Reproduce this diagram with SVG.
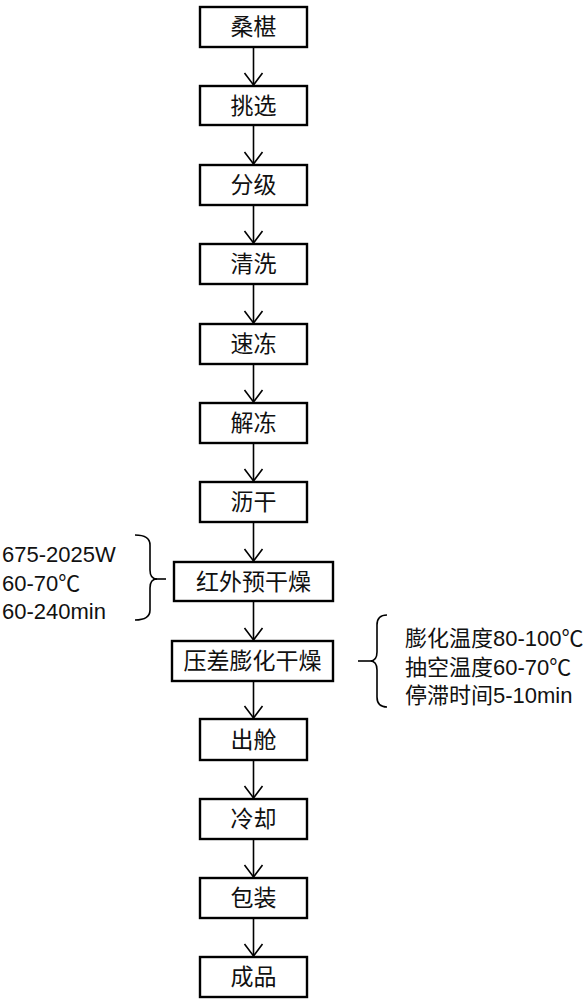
<svg xmlns="http://www.w3.org/2000/svg" width="588" height="1000" viewBox="0 0 588 1000">
<defs>
<style>
.box{fill:#fff;stroke:#000;stroke-width:2.4}
.lbl{font-family:"Liberation Sans","Noto Sans CJK SC",sans-serif;font-size:23px;fill:#111;text-anchor:middle;dominant-baseline:central}
.note{font-family:"Liberation Sans","Noto Sans CJK SC",sans-serif;font-size:22px;fill:#111}
.ln{fill:none;stroke:#000;stroke-width:1.6}
</style>
<marker id="ah" viewBox="0 0 20 14" refX="10" refY="13" markerWidth="20" markerHeight="14" markerUnits="userSpaceOnUse" orient="auto-start-reverse">
<path d="M1,1 L10,13 L19,1" fill="none" stroke="#000" stroke-width="1.6"/>
</marker>
</defs>
<rect width="588" height="1000" fill="#fff"/>
<g id="connectors">
<line class="ln" x1="253.5" y1="47" x2="253.5" y2="86"/>
<path class="ln" d="M244.5,73 L253.5,85 L262.5,73"/>
<line class="ln" x1="253.5" y1="125" x2="253.5" y2="165"/>
<path class="ln" d="M244.5,152 L253.5,164 L262.5,152"/>
<line class="ln" x1="253.5" y1="205" x2="253.5" y2="244"/>
<path class="ln" d="M244.5,231 L253.5,243 L262.5,231"/>
<line class="ln" x1="253.5" y1="284" x2="253.5" y2="324"/>
<path class="ln" d="M244.5,311 L253.5,323 L262.5,311"/>
<line class="ln" x1="253.5" y1="364" x2="253.5" y2="403"/>
<path class="ln" d="M244.5,390 L253.5,402 L262.5,390"/>
<line class="ln" x1="253.5" y1="443" x2="253.5" y2="482"/>
<path class="ln" d="M244.5,469 L253.5,481 L262.5,469"/>
<line class="ln" x1="253.5" y1="522" x2="253.5" y2="562"/>
<path class="ln" d="M244.5,549 L253.5,561 L262.5,549"/>
<line class="ln" x1="253.5" y1="601" x2="253.5" y2="641"/>
<path class="ln" d="M244.5,628 L253.5,640 L262.5,628"/>
<line class="ln" x1="253.5" y1="681" x2="253.5" y2="719"/>
<path class="ln" d="M244.5,706 L253.5,718 L262.5,706"/>
<line class="ln" x1="253.5" y1="760" x2="253.5" y2="799"/>
<path class="ln" d="M244.5,786 L253.5,798 L262.5,786"/>
<line class="ln" x1="253.5" y1="839" x2="253.5" y2="878"/>
<path class="ln" d="M244.5,865 L253.5,877 L262.5,865"/>
<line class="ln" x1="253.5" y1="918" x2="253.5" y2="957"/>
<path class="ln" d="M244.5,944 L253.5,956 L262.5,944"/>
</g>
<g id="n1"><rect class="box" x="200" y="7" width="107" height="40"/><text class="lbl" x="253.5" y="27">桑椹</text></g>
<g id="n2"><rect class="box" x="200" y="86" width="107" height="39"/><text class="lbl" x="253.5" y="105.5">挑选</text></g>
<g id="n3"><rect class="box" x="200" y="165" width="107" height="40"/><text class="lbl" x="253.5" y="185">分级</text></g>
<g id="n4"><rect class="box" x="200" y="244" width="107" height="40"/><text class="lbl" x="253.5" y="264">清洗</text></g>
<g id="n5"><rect class="box" x="200" y="324" width="107" height="40"/><text class="lbl" x="253.5" y="344">速冻</text></g>
<g id="n6"><rect class="box" x="200" y="403" width="107" height="40"/><text class="lbl" x="253.5" y="423">解冻</text></g>
<g id="n7"><rect class="box" x="200" y="482" width="107" height="40"/><text class="lbl" x="253.5" y="502">沥干</text></g>
<g id="n8"><rect class="box" x="174" y="562" width="159" height="39"/><text class="lbl" x="253.5" y="581.5">红外预干燥</text></g>
<g id="n9"><rect class="box" x="172" y="641" width="161" height="40"/><text class="lbl" x="252.5" y="661">压差膨化干燥</text></g>
<g id="n10"><rect class="box" x="200" y="719" width="107" height="41"/><text class="lbl" x="253.5" y="739.5">出舱</text></g>
<g id="n11"><rect class="box" x="200" y="799" width="107" height="40"/><text class="lbl" x="253.5" y="819">冷却</text></g>
<g id="n12"><rect class="box" x="200" y="878" width="107" height="40"/><text class="lbl" x="253.5" y="898">包装</text></g>
<g id="n13"><rect class="box" x="200" y="957" width="107" height="40"/><text class="lbl" x="253.5" y="977">成品</text></g>
<g id="note-left">
<path class="ln" d="M135,535 Q150,535 150,545 L150,570 Q150,579 157,579 Q150,579 150,588 L150,610 Q150,620 135,620"/>
<line class="ln" x1="156" y1="579" x2="166" y2="579"/>
<text class="note" x="2" y="562">675-2025W</text>
<text class="note" x="2" y="591">60-70℃</text>
<text class="note" x="2" y="619">60-240min</text>
</g>
<g id="note-right">
<path class="ln" d="M387,615 Q377,615 377,625 L377,652 Q377,661 370,661 Q377,661 377,670 L377,697 Q377,707 387,707"/>
<line class="ln" x1="358" y1="661" x2="370" y2="661"/>
<text class="note" x="405" y="646">膨化温度80-100℃</text>
<text class="note" x="405" y="675">抽空温度60-70℃</text>
<text class="note" x="405" y="703">停滞时间5-10min</text>
</g>
</svg>
